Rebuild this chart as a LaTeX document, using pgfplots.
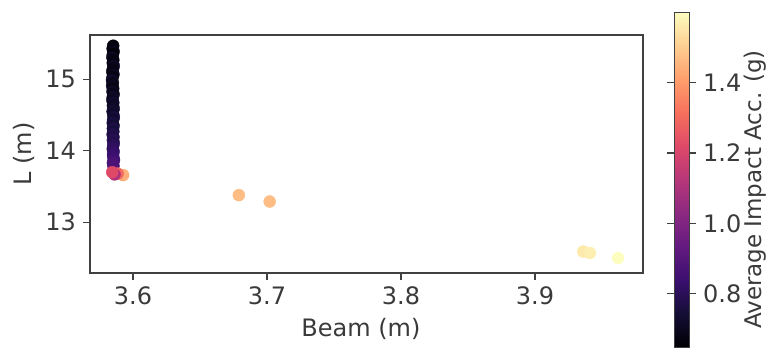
\documentclass[border=0pt]{standalone}
\usepackage{fontspec}
\setmainfont{DejaVu Sans}
\usepackage{pgfplots}
\pgfplotsset{compat=1.18}

\definecolor{txt}{HTML}{3A3A3A}
\definecolor{frame}{HTML}{404040}

% magma colour map
\pgfplotsset{
  colormap={magma}{
    rgb255=(0,0,4) rgb255=(20,14,54) rgb255=(59,15,112) rgb255=(100,26,128)
    rgb255=(140,41,129) rgb255=(183,55,121) rgb255=(222,73,104) rgb255=(247,112,92)
    rgb255=(254,159,109) rgb255=(254,207,146) rgb255=(252,253,191)
  }
}

\begin{document}
\begin{tikzpicture}[font=\fontsize{12}{14}\selectfont, text=txt]
\begin{axis}[
  name=ax,
  scale only axis,
  width=276.5pt, height=119pt,
  xmin=3.5679, xmax=3.9806,
  ymin=12.29, ymax=15.62,
  xtick={3.6,3.7,3.8,3.9},
  ytick={13,14,15},
  xticklabel style={/pgf/number format/fixed, /pgf/number format/precision=1},
  /pgf/number format/assume math mode=true,
  tick align=outside, tick pos=left,
  major tick length=3.5pt,
  every tick/.style={frame, line width=0.6pt},
  axis line style={frame, line width=0.6pt},
  xlabel={Beam (m)},
  ylabel={L (m)},
  xlabel style={at={(axis description cs:0.49,-0.235)}, anchor=center},
  ylabel style={at={(axis description cs:-0.119,0.5)}, anchor=center},
  colormap name=magma,
  point meta min=0.649, point meta max=1.60,
  colorbar,
  colorbar style={
    at={(parent axis.north east)}, anchor=north west,
    xshift=7pt, yshift=11.5pt,
    scale only axis,
    width=7.5pt, height=167.5pt,
    ytick={0.8,1.0,1.2,1.4},
    yticklabel style={/pgf/number format/fixed, /pgf/number format/fixed zerofill, /pgf/number format/precision=1},
    /pgf/number format/assume math mode=true,
    tick align=outside,
    major tick length=3.5pt,
    every tick/.style={frame, line width=0.6pt},
    axis line style={frame, line width=0.4pt},
    ylabel={Average Impact Acc. (g)},
    ylabel style={at={(axis description cs:5.4,0.47)}, anchor=center,
                  font=\fontsize{11.5}{13}\selectfont},
  },
]
\addplot[scatter, only marks, mark=*, mark size=3pt, scatter src=explicit,
         scatter/use mapped color={draw=mapped color, fill=mapped color},
         mark options={line width=0.2pt}]
  table[meta=c] {
x       y      c
3.5852  15.47  0.66
3.5848  15.43  0.67
3.5855  15.39  0.69
3.5850  15.35  0.65
3.5846  15.31  0.70
3.5853  15.27  0.68
3.5849  15.23  0.67
3.5856  15.19  0.71
3.5851  15.15  0.69
3.5845  15.11  0.68
3.5854  15.07  0.70
3.5848  15.03  0.67
3.5843  14.99  0.72
3.5850  14.95  0.69
3.5844  14.91  0.70
3.5852  14.87  0.68
3.5847  14.83  0.71
3.5855  14.79  0.69
3.5849  14.75  0.72
3.5846  14.71  0.70
3.5853  14.67  0.73
3.5850  14.63  0.71
3.5856  14.59  0.72
3.5848  14.55  0.74
3.5852  14.51  0.72
3.5857  14.47  0.75
3.5851  14.43  0.73
3.5849  14.39  0.76
3.5855  14.35  0.74
3.5850  14.31  0.77
3.5853  14.27  0.75
3.5848  14.23  0.78
3.5854  14.19  0.77
3.5850  14.15  0.79
3.5856  14.11  0.78
3.5852  14.07  0.80
3.5849  14.03  0.81
3.5855  13.99  0.82
3.5851  13.95  0.83
3.5853  13.91  0.84
3.5858  13.87  0.85
3.5850  13.83  0.87
3.5854  13.79  0.88
3.5926  13.66  1.44
3.5885  13.68  1.30
3.5862  13.67  1.10
3.5845  13.70  1.22
3.6790  13.38  1.47
3.7020  13.29  1.47
3.9360  12.59  1.56
3.9410  12.57  1.57
3.9620  12.50  1.60
};
\end{axis}
\pgfresetboundingbox
\path ([xshift=-45pt,yshift=-38pt]ax.south west) rectangle ([xshift=63.5pt,yshift=17.5pt]ax.north east);
\end{tikzpicture}
\end{document}
